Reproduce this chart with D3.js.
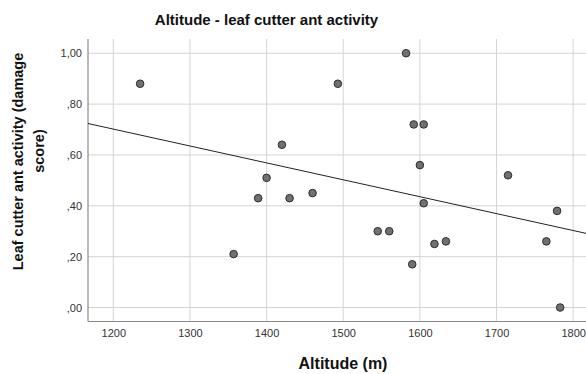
<!DOCTYPE html>
<html>
<head>
<meta charset="utf-8">
<script src="https://cdn.jsdelivr.net/npm/d3@7"></script>
<style>
  html, body { margin: 0; padding: 0; background: #fff; }
  svg { display: block; font-family: "Liberation Sans", Arial, sans-serif; }
</style>
</head>
<body>
<svg id="chart" width="586" height="374"></svg>
<script>
// Altitude (m) of each sampling site
const altitude = [1235, 1357, 1582, 1493, 1592, 1605, 1420, 1600, 1400, 1389, 1430,
                  1460, 1605, 1545, 1560, 1590, 1619, 1634, 1715, 1779, 1765, 1783];
// Leaf cutter ant damage score at each site
const damage = [0.88, 0.21, 1.00, 0.88, 0.72, 0.72, 0.64, 0.56, 0.51, 0.43, 0.43,
                0.45, 0.41, 0.30, 0.30, 0.17, 0.25, 0.26, 0.52, 0.38, 0.26, 0.00];
const xTicks = [1200, 1300, 1400, 1500, 1600, 1700, 1800];
const yTicks = [0, 0.2, 0.4, 0.6, 0.8, 1.0];

const svg = d3.select("#chart");
const plotL = 88, plotR = 600, plotT = 39, plotB = 321.5;

const x = d3.scaleLinear().domain([1167, 1835]).range([plotL, plotR]);
const y = d3.scaleLinear().domain([-0.055, 1.056]).range([plotB, plotT]);

// Comma decimal labels, leading zero dropped (",80")
const yFmt = v => v === 1 ? "1,00" : d3.format(".2f")(v).replace(/^0/, "").replace(".", ",");

// Grid
svg.append("g").selectAll("line").data(xTicks).join("line")
  .attr("x1", d => x(d)).attr("x2", d => x(d)).attr("y1", plotT).attr("y2", plotB)
  .attr("stroke", "#d4d4d4").attr("stroke-width", 1);
svg.append("g").selectAll("line").data(yTicks).join("line")
  .attr("x1", plotL).attr("x2", plotR).attr("y1", d => y(d)).attr("y2", d => y(d))
  .attr("stroke", "#d4d4d4").attr("stroke-width", 1);

// Axes
const xAxis = svg.append("g").attr("transform", `translate(0,${plotB})`)
  .call(d3.axisBottom(x).tickValues(xTicks).tickSize(0).tickPadding(8).tickFormat(d3.format("d")));
const yAxis = svg.append("g").attr("transform", `translate(${plotL},0)`)
  .call(d3.axisLeft(y).tickValues(yTicks).tickSize(0).tickPadding(6).tickFormat(yFmt));
[xAxis, yAxis].forEach(g => {
  g.select(".domain").attr("stroke", "#8a8a8a").attr("stroke-width", 1.2);
  g.selectAll("text").attr("font-family", "Liberation Sans, Arial, sans-serif")
    .attr("font-size", 11).attr("fill", "#333");
});
yAxis.select(".domain").attr("d", `M0,${plotT}V${plotB}`);
xAxis.select(".domain").attr("d", `M${plotL},0H${plotR}`);

// Least squares fit line
const mx = d3.mean(altitude), my = d3.mean(damage);
const sxy = d3.sum(altitude, (a, i) => (a - mx) * (damage[i] - my));
const sxx = d3.sum(altitude, a => (a - mx) ** 2);
const slope = sxy / sxx, icpt = my - slope * mx;
const [x0, x1] = x.domain();
svg.append("line")
  .attr("x1", x(x0)).attr("y1", y(icpt + slope * x0))
  .attr("x2", x(x1)).attr("y2", y(icpt + slope * x1))
  .attr("stroke", "#222").attr("stroke-width", 1);

// Points
svg.append("g").selectAll("circle").data(altitude).join("circle")
  .attr("cx", d => x(d)).attr("cy", (d, i) => y(damage[i]))
  .attr("r", 3.8).attr("fill", "#707070").attr("stroke", "#2e2e2e").attr("stroke-width", 1);

// Titles
svg.append("text").attr("x", 266.5).attr("y", 25).attr("text-anchor", "middle")
  .attr("font-size", 15).attr("font-weight", "bold").attr("fill", "#111")
  .text("Altitude - leaf cutter ant activity");
svg.append("text").attr("x", 343).attr("y", 369).attr("text-anchor", "middle")
  .attr("font-size", 16).attr("font-weight", "bold").attr("fill", "#111")
  .text("Altitude (m)");
const yt = svg.append("text").attr("transform", "rotate(-90)")
  .attr("text-anchor", "middle").attr("font-size", 14.5).attr("font-weight", "bold").attr("fill", "#111");
yt.append("tspan").attr("x", -161.5).attr("y", 23).text("Leaf cutter ant activity (damage");
yt.append("tspan").attr("x", -151).attr("y", 44).text("score)");
</script>
</body>
</html>
